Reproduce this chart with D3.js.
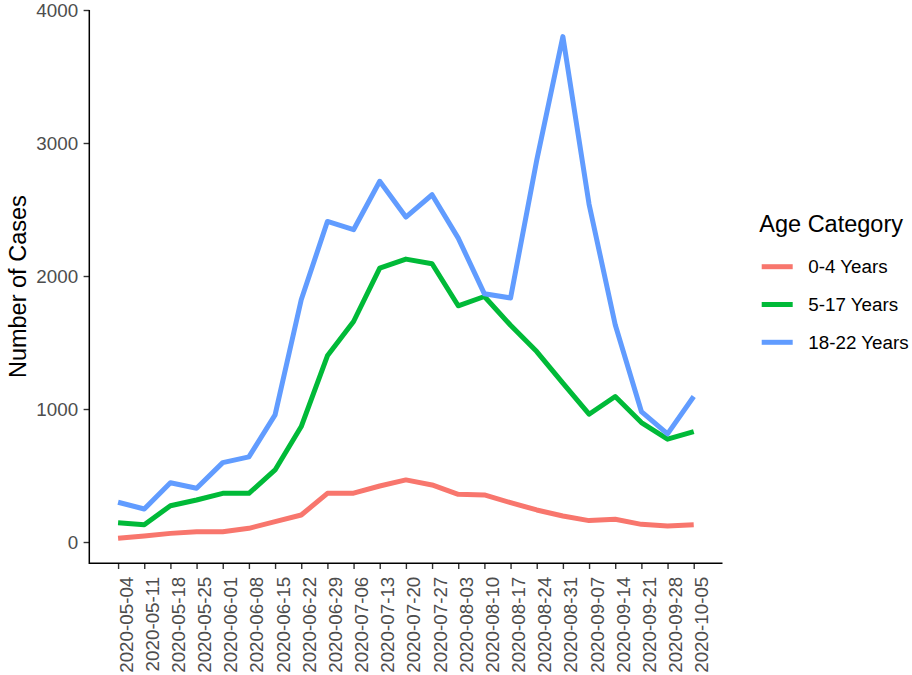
<!DOCTYPE html>
<html>
<head>
<meta charset="utf-8">
<script src="https://cdn.jsdelivr.net/npm/d3@7"></script>
<style>
  html, body { margin: 0; padding: 0; background: #fff; }
  svg { display: block; font-family: "Liberation Sans", Arial, sans-serif; }
</style>
</head>
<body>
<svg id="chart" width="912" height="675"></svg>
<script>
const dates = ["2020-05-04","2020-05-11","2020-05-18","2020-05-25","2020-06-01","2020-06-08","2020-06-15","2020-06-22","2020-06-29","2020-07-06","2020-07-13","2020-07-20","2020-07-27","2020-08-03","2020-08-10","2020-08-17","2020-08-24","2020-08-31","2020-09-07","2020-09-14","2020-09-21","2020-09-28","2020-10-05"];
const age0to4   = [28, 45, 65, 78, 78, 103, 153, 203, 366, 367, 421, 467, 429, 359, 354, 296, 241, 196, 161, 171, 133, 120, 130];
const age5to17  = [145, 130, 273, 316, 366, 366, 542, 868, 1400, 1658, 2059, 2127, 2092, 1776, 1846, 1630, 1432, 1194, 961, 1094, 898, 773, 830];
const age18to22 = [299, 248, 446, 404, 597, 640, 956, 1821, 2410, 2348, 2712, 2443, 2611, 2285, 1866, 1835, 2870, 3800, 2540, 1633, 981, 813, 1094];
const seriesNames = ["0-4 Years", "5-17 Years", "18-22 Years"];
const seriesColors = ["#F8766D", "#00BA38", "#619CFF"];
const yTicks = [0, 1000, 2000, 3000, 4000];
const legendTitle = "Age Category";
const yTitle = "Number of Cases";

const series = [age0to4, age5to17, age18to22].map((vals, i) => ({
  name: seriesNames[i], color: seriesColors[i],
  values: vals.map((v, j) => ({ date: dates[j], value: v }))
}));

const svg = d3.select("#chart");
const pLeft = 89.3, pRight = 722.5, pTop = 10, pBottom = 563.3;

const x = d3.scalePoint().domain(dates).range([pLeft, pRight]).padding(1.1);
const y = d3.scaleLinear().domain([-160, 4000]).range([pBottom, pTop]);

// lines
const line = d3.line().x(d => x(d.date)).y(d => y(d.value));
svg.append("g").selectAll("path").data(series).join("path")
  .attr("d", d => line(d.values))
  .attr("fill", "none")
  .attr("stroke", d => d.color)
  .attr("stroke-width", 5)
  .attr("stroke-linejoin", "round");

// y axis
const yAxis = svg.append("g").attr("transform", `translate(${pLeft},0)`)
  .call(d3.axisLeft(y).tickValues(yTicks).tickSize(5.7).tickPadding(5.5).tickFormat(d3.format("d")));
yAxis.select(".domain").remove();
yAxis.selectAll(".tick line").attr("stroke", "#333333").attr("stroke-width", 1.4);
yAxis.selectAll(".tick text").attr("fill", "#4D4D4D").style("font-size", "18.8px").attr("dy", "0.36em");

// x axis
const xAxis = svg.append("g").attr("transform", `translate(0,${pBottom})`)
  .call(d3.axisBottom(x).tickSize(5.7));
xAxis.select(".domain").remove();
xAxis.selectAll(".tick line").attr("stroke", "#333333").attr("stroke-width", 1.4);
xAxis.selectAll(".tick text")
  .attr("fill", "#4D4D4D").style("font-size", "18.8px")
  .attr("text-anchor", "end")
  .attr("transform", "rotate(-90)")
  .attr("x", -13.4).attr("y", 14).attr("dy", 0);

// axis lines
svg.append("path")
  .attr("d", `M${pLeft},${pTop}V${pBottom}H${pRight}`)
  .attr("fill", "none").attr("stroke", "#000").attr("stroke-width", 1.5);

// y title
svg.append("text")
  .attr("transform", `translate(26,${(pTop + pBottom) / 2}) rotate(-90)`)
  .attr("text-anchor", "middle")
  .style("font-size", "23.5px").attr("fill", "#000")
  .text(yTitle);

// legend
const lg = svg.append("g");
lg.append("text").attr("x", 759.3).attr("y", 232)
  .style("font-size", "23.5px").attr("fill", "#000").text(legendTitle);
const items = lg.selectAll("g.item").data(series).join("g")
  .attr("class", "item")
  .attr("transform", (d, i) => `translate(0,${266.7 + i * 37.8})`);
items.append("line").attr("x1", 761.7).attr("x2", 792.7)
  .attr("stroke", d => d.color).attr("stroke-width", 5);
items.append("text").attr("x", 808.3).attr("dy", "0.35em")
  .style("font-size", "18.8px").attr("fill", "#000").text(d => d.name);
</script>
</body>
</html>
